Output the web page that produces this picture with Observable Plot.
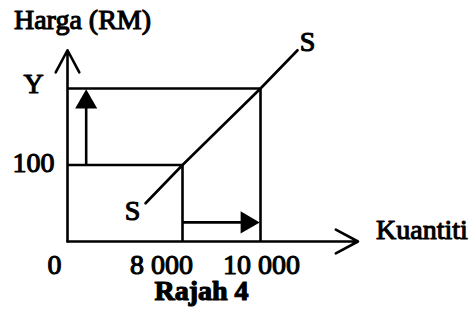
<!DOCTYPE html>
<html><head><meta charset="utf-8">
<script src="https://cdn.jsdelivr.net/npm/d3@7"></script>
<script src="https://cdn.jsdelivr.net/npm/@observablehq/plot@0.6"></script>
<style>
html,body{margin:0;padding:0;background:#fff;}
svg text{font-family:"Liberation Serif","Times New Roman",Times,serif;}
</style></head><body>
<div id="chart"></div>
<script>
// Quantity ticks (Kuantiti) and their labels
const quantities = [0, 8000, 10000];
const quantityLabels = ["0", "8 000", "10 000"];
// Price levels (Harga, RM); "Y" is the unknown higher price (drawn at ~200)
const priceLevels = [100, 200];
const priceLabels = ["100", "Y"];
// Supply curve S (estimated end points of the drawn line)
const supplyQ = [5430, 8000, 10000, 10950];
const supplyP = [50, 100, 200, 250];
// Axis extents
const axisEndQ = 12500;
const axisEndP = 250;
// Annotation arrows: rise in price at q = 1300, rise in quantity at p = 25
const priceArrowQ = 1300;
const quantityArrowP = 25;

const supply = supplyQ.map((q, i) => ({q, p: supplyP[i]}));
const ink = "black";
const sw = 2.6;
const font = "Liberation Serif";
const labelDx = [-13, -21, 1];
const txt = {fill: ink, stroke: ink, strokeWidth: 1.1, fontFamily: font, fontSize: 28};

const marks = [
  Plot.ruleY([priceLevels[1]], {x1: quantities[0], x2: quantities[2], stroke: ink, strokeWidth: sw}),
  Plot.ruleX([quantities[2]], {y1: 0, y2: priceLevels[1], stroke: ink, strokeWidth: sw}),
  Plot.ruleY([priceLevels[0]], {x1: quantities[0], x2: quantities[1], stroke: ink, strokeWidth: sw}),
  Plot.ruleX([quantities[1]], {y1: 0, y2: priceLevels[0], stroke: ink, strokeWidth: sw}),
  Plot.line(supply, {x: "q", y: "p", stroke: ink, strokeWidth: sw}),
  Plot.arrow([0], {x1: 0, y1: 0, x2: 0, y2: axisEndP, stroke: ink, strokeWidth: sw, headLength: 14.5, headAngle: 56}),
  Plot.arrow([0], {x1: 0, y1: 0, x2: axisEndQ, y2: 0, stroke: ink, strokeWidth: sw, headLength: 14.5, headAngle: 56}),
  Plot.ruleX([priceArrowQ], {y1: priceLevels[0], y2: priceLevels[1] - 10, stroke: ink, strokeWidth: sw}),
  Plot.dot([priceArrowQ], {x: d => d, y: priceLevels[1], symbol: "triangle", r: 8.2, fill: ink, stroke: null, dy: 13.5}),
  Plot.ruleY([quantityArrowP], {x1: quantities[1], x2: quantities[2] - 300, stroke: ink, strokeWidth: sw}),
  Plot.dot([quantityArrowP], {x: quantities[2], y: d => d, symbol: "triangle", r: 8.2, rotate: 90, fill: ink, stroke: null, dx: -13.5}),
  ...priceLevels.map((p, i) => Plot.text([priceLabels[i]], {x: 0, y: p, text: d => d, textAnchor: "middle", lineAnchor: "bottom", dx: -34, dy: i === 0 ? 7 : 4, ...txt})),
  ...quantities.map((q, i) => Plot.text([quantityLabels[i]], {x: q, y: 0, text: d => d, textAnchor: "middle", lineAnchor: "bottom", dx: labelDx[i], dy: 32, ...txt})),
  Plot.text([supply[supply.length - 1]], {x: "q", y: "p", text: () => "S", textAnchor: "middle", lineAnchor: "bottom", dx: 10, dy: 1, ...txt}),
  Plot.text([supply[0]], {x: "q", y: "p", text: () => "S", textAnchor: "middle", lineAnchor: "bottom", dx: -13, dy: 17, ...txt}),
  Plot.text(["Harga (RM)"], {x: 0, y: axisEndP, text: d => d, textAnchor: "middle", lineAnchor: "bottom", dx: 15, dy: -21, ...txt}),
  Plot.text(["Kuantiti"], {x: axisEndQ, y: 0, text: d => d, textAnchor: "start", lineAnchor: "bottom", dx: 18, dy: -3, ...txt}),
  Plot.text(["Rajah 4"], {frameAnchor: "top-left", text: d => d, textAnchor: "middle", lineAnchor: "bottom", dx: 201, dy: 299, ...txt, fontWeight: "bold", fontSize: 28, strokeWidth: 1.2})
];

const chart = Plot.plot({
  width: 471,
  height: 320,
  marginTop: 0, marginRight: 0, marginBottom: 0, marginLeft: 0,
  x: {type: "linear", domain: [0, 8000, 10000], range: [67, 182, 260], axis: null},
  y: {type: "linear", domain: [0, 200], range: [241, 88], axis: null},
  style: {fontFamily: "Liberation Serif", fontSize: "28px", background: "white", color: "black"},
  marks
});
document.getElementById("chart").appendChild(chart);
</script>
</body></html>
